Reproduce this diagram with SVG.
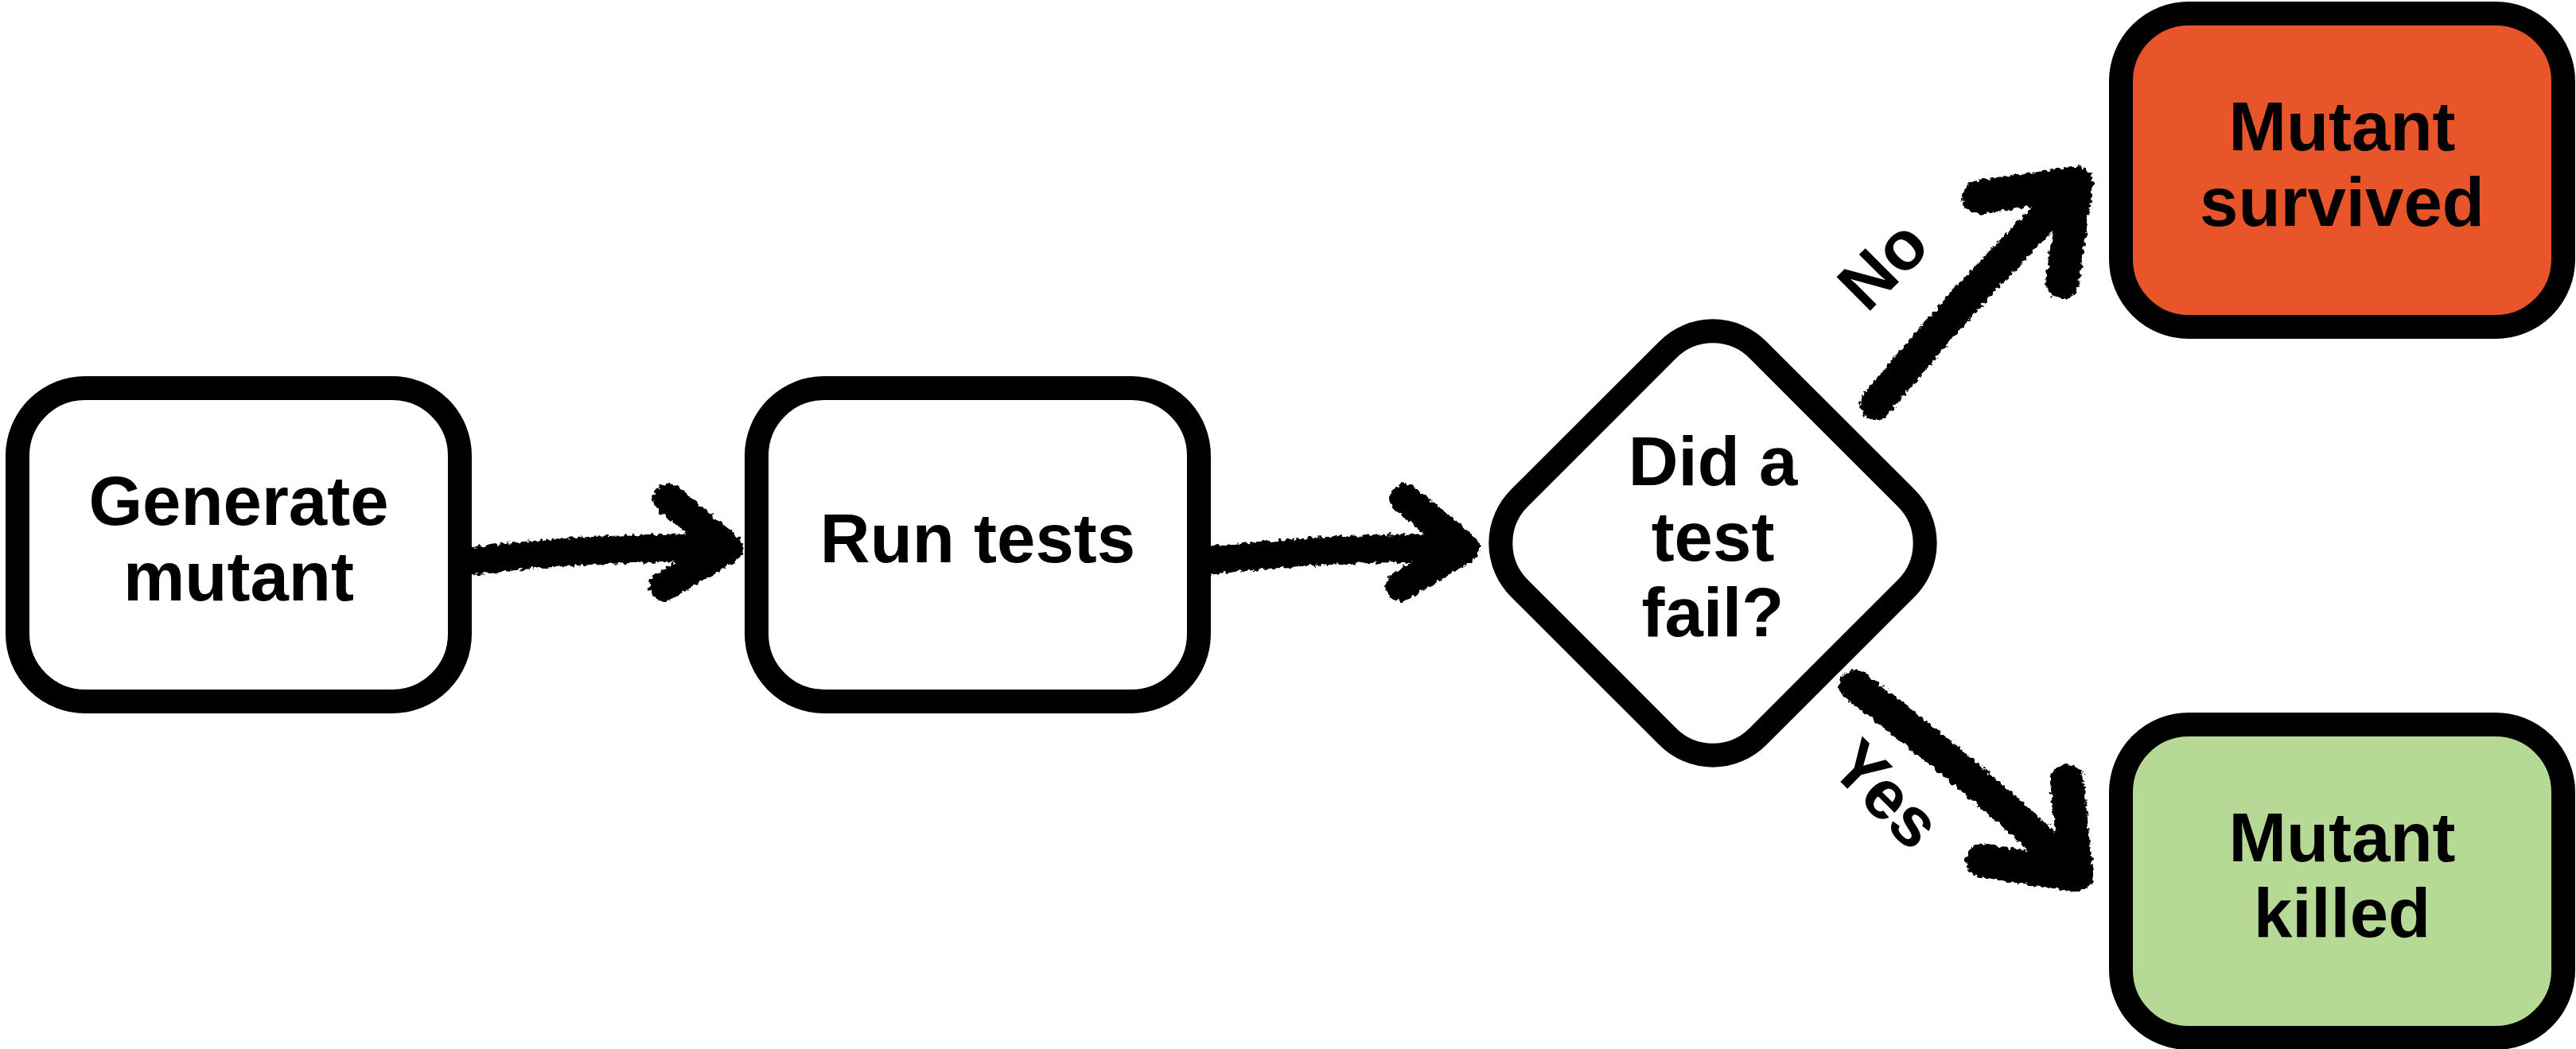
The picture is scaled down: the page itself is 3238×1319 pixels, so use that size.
<svg xmlns="http://www.w3.org/2000/svg" width="3238" height="1319" viewBox="0 0 3238 1319">
  <style>
    .box { stroke: #000; stroke-width: 30; }
    .lbl { font-family: "Liberation Sans", Arial, sans-serif; font-weight: 700; font-size: 87px; fill: #000; text-anchor: middle; }
    .brush { fill: none; stroke: #000; stroke-linecap: round; stroke-linejoin: round; }
    .rough { filter: url(#rough); }
  </style>
  <defs>
    <filter id="rough" filterUnits="userSpaceOnUse" x="0" y="0" width="3238" height="1319">
      <feTurbulence type="fractalNoise" baseFrequency="0.18" numOctaves="2" seed="4" result="n"/>
      <feDisplacementMap in="SourceGraphic" in2="n" scale="9" xChannelSelector="R" yChannelSelector="G"/>
    </filter>
  </defs>
  <rect width="3238" height="1319" fill="#fff"/>

  <g id="connectors">
    <g id="arrow-generate-run">
      <g class="rough">
        <path class="brush" stroke-width="35" d="M597,705 C700,692 820,688 915,689"/>
        <path class="brush" stroke-width="38" d="M840,627 L915,689 L835,737"/>
      </g>
    </g>
    <g id="arrow-run-decision">
      <g class="rough">
        <path class="brush" stroke-width="35" d="M1523,705 C1626,692 1746,688 1841,689"/>
        <path class="brush" stroke-width="38" d="M1766,627 L1841,689 L1761,737"/>
      </g>
    </g>
    <g id="arrow-no">
      <g class="rough">
        <path class="brush" stroke-width="40" d="M2358,508 C2430,420 2520,320 2605,238"/>
        <path class="brush" stroke-width="42" d="M2487,248 L2610,230 L2592,355"/>
      </g>
      <text class="lbl" transform="translate(2368,334) rotate(-45)" x="0" y="28">No</text>
    </g>
    <g id="arrow-yes">
      <g class="rough">
        <path class="brush" stroke-width="40" d="M2332,862 C2420,930 2520,1010 2605,1095"/>
        <path class="brush" stroke-width="42" d="M2598,982 L2610,1100 L2492,1082"/>
      </g>
      <text class="lbl" transform="translate(2370,1000) rotate(45)" x="0" y="28">Yes</text>
    </g>
  </g>

  <g id="node-generate">
    <rect class="box" x="22" y="488" width="556" height="394" rx="85" fill="#fff"/>
    <text class="lbl" x="300" y="660">Generate</text>
    <text class="lbl" x="300" y="755">mutant</text>
  </g>

  <g id="node-run">
    <rect class="box" x="951" y="488" width="556" height="394" rx="85" fill="#fff"/>
    <text class="lbl" x="1229" y="707">Run tests</text>
  </g>

  <g id="node-decision">
    <rect class="box" x="1941" y="471" width="424" height="424" rx="80" fill="#fff" transform="rotate(45 2153 683)"/>
    <text class="lbl" x="2153" y="610">Did a</text>
    <text class="lbl" x="2153" y="705">test</text>
    <text class="lbl" x="2153" y="800">fail?</text>
  </g>

  <g id="node-survived">
    <rect class="box" x="2666" y="17" width="556" height="394" rx="85" fill="#E9552A"/>
    <text class="lbl" x="2944" y="189">Mutant</text>
    <text class="lbl" x="2944" y="284">survived</text>
  </g>

  <g id="node-killed">
    <rect class="box" x="2666" y="911" width="556" height="394" rx="85" fill="#B6D995"/>
    <text class="lbl" x="2944" y="1083">Mutant</text>
    <text class="lbl" x="2944" y="1178">killed</text>
  </g>
</svg>
